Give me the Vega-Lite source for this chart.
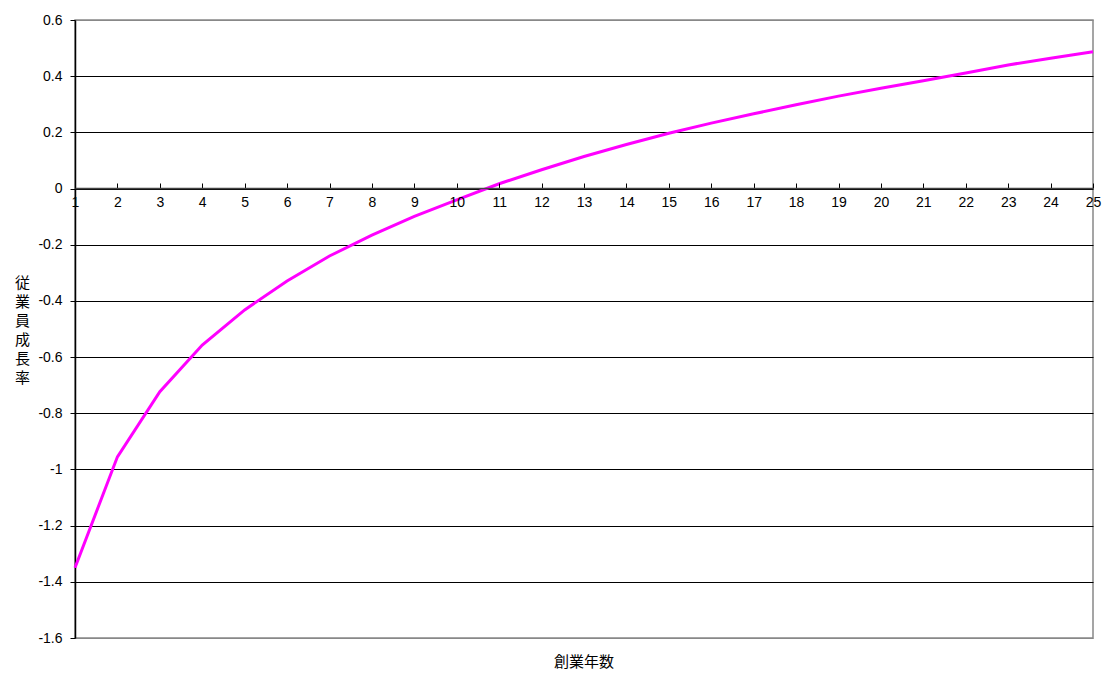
{
  "$schema": "https://vega.github.io/schema/vega-lite/v6.json",
  "width": 1018,
  "height": 618,
  "autosize": {"type": "none"},
  "padding": {"left": 75, "top": 20, "right": 11, "bottom": 35},
  "background": "white",
  "config": {
    "view": {"stroke": "#888888", "strokeWidth": 1.5},
    "font": "Liberation Sans"
  },
  "title": {
    "text": "創業年数",
    "orient": "bottom",
    "anchor": "middle",
    "offset": 10,
    "font": "Noto Sans CJK JP",
    "fontSize": 15,
    "fontWeight": "normal",
    "color": "black"
  },
  "data": {
    "values": [
      {"year": 1, "rate": -1.35},
      {"year": 2, "rate": -0.955},
      {"year": 3, "rate": -0.723},
      {"year": 4, "rate": -0.557},
      {"year": 5, "rate": -0.432},
      {"year": 6, "rate": -0.329},
      {"year": 7, "rate": -0.24},
      {"year": 8, "rate": -0.166},
      {"year": 9, "rate": -0.099},
      {"year": 10, "rate": -0.04},
      {"year": 11, "rate": 0.017},
      {"year": 12, "rate": 0.067},
      {"year": 13, "rate": 0.114},
      {"year": 14, "rate": 0.157},
      {"year": 15, "rate": 0.197},
      {"year": 16, "rate": 0.233},
      {"year": 17, "rate": 0.266},
      {"year": 18, "rate": 0.298},
      {"year": 19, "rate": 0.329},
      {"year": 20, "rate": 0.357},
      {"year": 21, "rate": 0.384},
      {"year": 22, "rate": 0.411},
      {"year": 23, "rate": 0.44},
      {"year": 24, "rate": 0.464},
      {"year": 25, "rate": 0.487}
    ]
  },
  "mark": {"type": "line", "color": "#FF00FF", "strokeWidth": 3, "clip": false},
  "encoding": {
    "x": {
      "field": "year",
      "type": "quantitative",
      "scale": {"domain": [1, 25], "nice": false, "zero": false},
      "axis": {
        "title": null,
        "values": [1,2,3,4,5,6,7,8,9,10,11,12,13,14,15,16,17,18,19,20,21,22,23,24,25],
        "format": "d",
        "grid": false,
        "offset": -450,
        "domainColor": "#444444",
        "domainWidth": 1.5,
        "tickColor": "black",
        "tickSize": -5,
        "labelPadding": 12,
        "labelFontSize": 14,
        "labelColor": "black",
        "labelOverlap": false,
        "labelFlush": false,
        "zindex": 1
      }
    },
    "y": {
      "field": "rate",
      "type": "quantitative",
      "scale": {"domain": [-1.6, 0.6], "nice": false, "zero": false},
      "axis": {
        "values": [-1.6,-1.4,-1.2,-1,-0.8,-0.6,-0.4,-0.2,0,0.2,0.4,0.6],
        "labelExpr": "'' + datum.value",
        "title": ["従", "業", "員", "成", "長", "率"],
        "titleAngle": 0,
        "titleFont": "Noto Sans CJK JP",
        "titleFontSize": 15,
        "titleFontWeight": "normal",
        "titleLineHeight": 19,
        "titleAlign": "center",
        "titleBaseline": "middle",
        "titleX": -53,
        "titleY": 262,
        "titleColor": "black",
        "labelFontSize": 14,
        "labelColor": "black",
        "labelPadding": 8,
        "tickSize": 5,
        "tickColor": "black",
        "domainColor": "black",
        "domainWidth": 1.5,
        "grid": true,
        "gridColor": {"condition": {"test": "datum.value == 0.6 || datum.value == -1.6", "value": "#888888"}, "value": "black"},
        "gridWidth": 1,
        "gridOpacity": 1
      }
    }
  }
}
